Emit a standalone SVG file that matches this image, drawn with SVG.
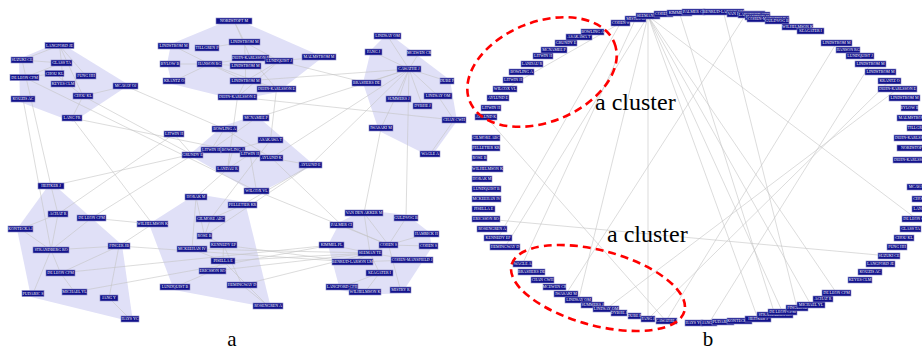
<svg xmlns="http://www.w3.org/2000/svg" width="922" height="352" viewBox="0 0 922 352">
<style>
.hull{fill:#e0e0f7}
.e line{stroke:#c4c4c4;stroke-width:0.6}
.n rect{fill:#11118a;stroke:#8c8cc8;stroke-width:0.6}
.n text{fill:#fff;font-family:"Liberation Serif",serif;font-size:4px;text-anchor:middle}
.ring{fill:none;stroke:#f00;stroke-width:2.6;stroke-dasharray:8 5}
.cap{font-family:"Liberation Serif",serif;font-size:24px;fill:#000}
.panel{font-family:"Liberation Serif",serif;font-size:21px;fill:#000;text-anchor:middle}
</style>

<!-- panel a: cluster hulls -->
<g id="hulls">
<polygon class="hull" points="59,42 129,85 73,122 20,102 19,59"/>
<polygon class="hull" points="234,18 323,57 278,92 237,100 172,84 167,64 171,44"/>
<polygon class="hull" points="388,33 450,80 457,121 431,157 379,131 363,83 371,50"/>
<polygon class="hull" points="256,115 314,165 257,194 189,155 223,126"/>
<polygon class="hull" points="196,194 245,202 271,308 174,290 149,224"/>
<polygon class="hull" points="51,182 122,245 133,322 31,297 17,229"/>
<polygon class="hull" points="364,210 407,215 429,232 432,247 402,293 365,295 340,290 328,245 340,222"/>
</g>

<!-- connectors of both panels -->
<g id="connectors" class="e">
<line x1="59.5" y1="45.5" x2="22" y2="60"/>
<line x1="59.5" y1="45.5" x2="61.5" y2="63"/>
<line x1="59.5" y1="45.5" x2="86" y2="76"/>
<line x1="59.5" y1="45.5" x2="83" y2="96"/>
<line x1="22" y1="60" x2="61.5" y2="63"/>
<line x1="24.5" y1="77.5" x2="54.5" y2="73.5"/>
<line x1="54.5" y1="73.5" x2="83" y2="96"/>
<line x1="61.5" y1="63" x2="63" y2="84"/>
<line x1="125.5" y1="86" x2="83" y2="96"/>
<line x1="83" y1="96" x2="72" y2="118"/>
<line x1="24.5" y1="77.5" x2="61.5" y2="63"/>
<line x1="234" y1="21" x2="244.5" y2="42"/>
<line x1="234" y1="21" x2="250.5" y2="58"/>
<line x1="173.5" y1="46" x2="209.5" y2="64"/>
<line x1="207" y1="48" x2="244.5" y2="42"/>
<line x1="244.5" y1="42" x2="245.5" y2="66"/>
<line x1="244.5" y1="42" x2="279" y2="61"/>
<line x1="170" y1="64" x2="209.5" y2="64"/>
<line x1="209.5" y1="64" x2="245.5" y2="66"/>
<line x1="209.5" y1="64" x2="250.5" y2="58"/>
<line x1="209.5" y1="64" x2="174" y2="81"/>
<line x1="209.5" y1="64" x2="245.5" y2="81"/>
<line x1="209.5" y1="64" x2="276.5" y2="89"/>
<line x1="245.5" y1="66" x2="245.5" y2="81"/>
<line x1="279" y1="61" x2="245.5" y2="81"/>
<line x1="279" y1="61" x2="319" y2="57"/>
<line x1="245.5" y1="81" x2="276.5" y2="89"/>
<line x1="245.5" y1="81" x2="237.5" y2="97"/>
<line x1="250.5" y1="58" x2="276.5" y2="89"/>
<line x1="279" y1="61" x2="237.5" y2="97"/>
<line x1="409" y1="69" x2="387.5" y2="36"/>
<line x1="409" y1="69" x2="373.5" y2="52"/>
<line x1="409" y1="69" x2="419" y2="53"/>
<line x1="409" y1="69" x2="447" y2="81"/>
<line x1="409" y1="69" x2="366.5" y2="83"/>
<line x1="409" y1="69" x2="438" y2="96"/>
<line x1="409" y1="69" x2="398.5" y2="99"/>
<line x1="409" y1="69" x2="422.5" y2="106"/>
<line x1="409" y1="69" x2="381" y2="128"/>
<line x1="454" y1="120" x2="430" y2="154"/>
<line x1="438" y1="96" x2="454" y2="120"/>
<line x1="256" y1="118" x2="211" y2="150"/>
<line x1="224.5" y1="129" x2="211" y2="150"/>
<line x1="174" y1="134" x2="192.5" y2="155"/>
<line x1="270.5" y1="140" x2="233" y2="150"/>
<line x1="233" y1="150" x2="250" y2="154"/>
<line x1="250" y1="154" x2="271.5" y2="158"/>
<line x1="271.5" y1="158" x2="310.5" y2="165"/>
<line x1="250" y1="154" x2="227.5" y2="169"/>
<line x1="233" y1="150" x2="227.5" y2="169"/>
<line x1="250" y1="154" x2="256.5" y2="191"/>
<line x1="224.5" y1="129" x2="271.5" y2="158"/>
<line x1="196" y1="197" x2="192" y2="249"/>
<line x1="196" y1="197" x2="204.5" y2="236"/>
<line x1="210.5" y1="219" x2="204.5" y2="236"/>
<line x1="204.5" y1="236" x2="223.5" y2="245"/>
<line x1="223.5" y1="245" x2="223" y2="261"/>
<line x1="223.5" y1="245" x2="242" y2="285"/>
<line x1="192" y1="249" x2="223" y2="261"/>
<line x1="223" y1="261" x2="212.5" y2="271"/>
<line x1="212.5" y1="271" x2="175" y2="287"/>
<line x1="242" y1="285" x2="268" y2="306"/>
<line x1="223" y1="261" x2="268" y2="306"/>
<line x1="210.5" y1="219" x2="242.5" y2="205"/>
<line x1="58" y1="214" x2="20.5" y2="229"/>
<line x1="58" y1="214" x2="51" y2="250"/>
<line x1="91.5" y1="218" x2="51" y2="250"/>
<line x1="51" y1="250" x2="119" y2="246"/>
<line x1="51" y1="250" x2="60.5" y2="273"/>
<line x1="51" y1="250" x2="33" y2="293.5"/>
<line x1="60.5" y1="273" x2="119" y2="246"/>
<line x1="60.5" y1="273" x2="74.5" y2="292"/>
<line x1="119" y1="246" x2="109" y2="298"/>
<line x1="109" y1="298" x2="130" y2="319"/>
<line x1="51" y1="186" x2="58" y2="214"/>
<line x1="20.5" y1="229" x2="51" y2="250"/>
<line x1="364" y1="213" x2="370" y2="253"/>
<line x1="364" y1="213" x2="388.5" y2="245"/>
<line x1="341.5" y1="225" x2="388.5" y2="245"/>
<line x1="406" y1="218" x2="388.5" y2="245"/>
<line x1="426.5" y1="234" x2="388.5" y2="245"/>
<line x1="388.5" y1="245" x2="428.5" y2="246"/>
<line x1="388.5" y1="245" x2="370" y2="253"/>
<line x1="331.5" y1="245" x2="370" y2="253"/>
<line x1="370" y1="253" x2="352.5" y2="262"/>
<line x1="370" y1="253" x2="412" y2="260"/>
<line x1="388.5" y1="245" x2="400.5" y2="290"/>
<line x1="370" y1="253" x2="379.5" y2="273"/>
<line x1="379.5" y1="273" x2="342" y2="287"/>
<line x1="379.5" y1="273" x2="365" y2="292"/>
<line x1="352.5" y1="262" x2="412" y2="260"/>
<line x1="22" y1="60" x2="51" y2="186"/>
<line x1="23" y1="99" x2="51" y2="250"/>
<line x1="72" y1="118" x2="152.5" y2="224"/>
<line x1="24.5" y1="77.5" x2="256.5" y2="191"/>
<line x1="83" y1="96" x2="192.5" y2="155"/>
<line x1="245.5" y1="81" x2="409" y2="69"/>
<line x1="237.5" y1="97" x2="454" y2="120"/>
<line x1="237.5" y1="97" x2="227.5" y2="169"/>
<line x1="409" y1="69" x2="256" y2="118"/>
<line x1="409" y1="69" x2="271.5" y2="158"/>
<line x1="409" y1="69" x2="310.5" y2="165"/>
<line x1="409" y1="69" x2="406" y2="218"/>
<line x1="381" y1="128" x2="364" y2="213"/>
<line x1="341.5" y1="225" x2="271.5" y2="158"/>
<line x1="192" y1="249" x2="370" y2="253"/>
<line x1="223.5" y1="245" x2="352.5" y2="262"/>
<line x1="223" y1="261" x2="370" y2="253"/>
<line x1="212.5" y1="271" x2="370" y2="253"/>
<line x1="242" y1="285" x2="370" y2="253"/>
<line x1="119" y1="246" x2="352.5" y2="262"/>
<line x1="60.5" y1="273" x2="331.5" y2="245"/>
<line x1="74.5" y1="292" x2="331.5" y2="245"/>
<line x1="119" y1="246" x2="152.5" y2="224"/>
<line x1="91.5" y1="218" x2="152.5" y2="224"/>
<line x1="192.5" y1="155" x2="91.5" y2="218"/>
<line x1="58" y1="214" x2="174" y2="134"/>
<line x1="51" y1="186" x2="211" y2="150"/>
<line x1="242.5" y1="205" x2="310.5" y2="165"/>
<line x1="256.5" y1="191" x2="388.5" y2="245"/>
<line x1="279" y1="61" x2="366.5" y2="83"/>
<line x1="125.5" y1="86" x2="224.5" y2="129"/>
<line x1="276.5" y1="89" x2="270.5" y2="140"/>
<line x1="196" y1="197" x2="227.5" y2="169"/>
<line x1="204.5" y1="236" x2="310.5" y2="165"/>
<line x1="210.5" y1="219" x2="270.5" y2="140"/>
<line x1="72" y1="118" x2="250" y2="154"/>
<!-- panel b chords -->
<line x1="648" y1="16" x2="505" y2="247"/>
<line x1="635.5" y1="19" x2="522.5" y2="264"/>
<line x1="620.5" y1="23" x2="498" y2="238"/>
<line x1="648" y1="16" x2="648" y2="319"/>
<line x1="648" y1="16" x2="578.5" y2="300"/>
<line x1="648" y1="16" x2="758" y2="319"/>
<line x1="648" y1="16" x2="782.5" y2="312"/>
<line x1="648" y1="16" x2="811" y2="305"/>
<line x1="648" y1="16" x2="836.5" y2="293"/>
<line x1="648" y1="16" x2="916.5" y2="219"/>
<line x1="723.5" y1="12" x2="797" y2="308"/>
<line x1="679.5" y1="13" x2="775" y2="315"/>
<line x1="505" y1="89" x2="620.5" y2="23"/>
<line x1="486" y1="117" x2="666" y2="321"/>
<line x1="836.5" y1="43" x2="666" y2="321"/>
<line x1="870.5" y1="64" x2="709" y2="323"/>
<line x1="889.5" y1="81" x2="648" y2="319"/>
<line x1="897.5" y1="89" x2="606" y2="309"/>
<line x1="486" y1="219" x2="889" y2="256"/>
<line x1="566" y1="294" x2="746" y2="14"/>
</g>

<!-- panel a: nodes -->
<g id="a1-langford-je" class="n"><rect x="45" y="42.5" width="29" height="6"/><text x="59.5" y="46.9">LANGFORD JE</text></g>
<g id="a2-suzuki-ce" class="n"><rect x="11" y="57" width="22" height="6"/><text x="22" y="61.4">SUZUKI CE</text></g>
<g id="a3-glass-ta" class="n"><rect x="51" y="60" width="21" height="6"/><text x="61.5" y="64.4">GLASS TA</text></g>
<g id="a4-chou-kl" class="n"><rect x="45" y="70.5" width="19" height="6"/><text x="54.5" y="74.9">CHOU KL</text></g>
<g id="a5-fung-hh" class="n"><rect x="76" y="73" width="20" height="6"/><text x="86" y="77.4">FUNG HH</text></g>
<g id="a6-de-leon-cfm" class="n"><rect x="10" y="74.5" width="29" height="6"/><text x="24.5" y="78.9">DE LEON CFM</text></g>
<g id="a7-keyes-clm" class="n"><rect x="51" y="81" width="24" height="6"/><text x="63" y="85.4">KEYES CLM</text></g>
<g id="a8-mcavay-oj" class="n"><rect x="113" y="83" width="25" height="6"/><text x="125.5" y="87.4">MCAVAY OJ</text></g>
<g id="a9-chou-kl" class="n"><rect x="73" y="93" width="20" height="6"/><text x="83" y="97.4">CHOU KL</text></g>
<g id="a10-kouzis-ac" class="n"><rect x="11" y="96" width="24" height="6"/><text x="23" y="100.4">KOUZIS AC</text></g>
<g id="a11-lang-fr" class="n"><rect x="62" y="115" width="20" height="6"/><text x="72" y="119.4">LANG FR</text></g>
<g id="a12-nordstopt-m" class="n"><rect x="216" y="18" width="36" height="6"/><text x="234" y="22.4">NORDSTOPT M</text></g>
<g id="a13-lindstrom-m" class="n"><rect x="158" y="43" width="31" height="6"/><text x="173.5" y="47.4">LINDSTROM M</text></g>
<g id="a14-tillgren-p" class="n"><rect x="195" y="45" width="24" height="6"/><text x="207" y="49.4">TILLGREN P</text></g>
<g id="a15-lindstrom-m" class="n"><rect x="229" y="39" width="31" height="6"/><text x="244.5" y="43.4">LINDSTROM M</text></g>
<g id="a16-dehn-karlsson-e" class="n"><rect x="232" y="55" width="37" height="6"/><text x="250.5" y="59.4">DEHN-KARLSSON E</text></g>
<g id="a17-lundquist-j" class="n"><rect x="265" y="58" width="28" height="6"/><text x="279" y="62.4">LUNDQUIST J</text></g>
<g id="a18-malmstrom-m" class="n"><rect x="302" y="54" width="34" height="6"/><text x="319" y="58.4">MALMSTROM M</text></g>
<g id="a19-bylow-b" class="n"><rect x="160" y="61" width="20" height="6"/><text x="170" y="65.4">BYLOW B</text></g>
<g id="a20-hanson-rg" class="n"><rect x="197" y="61" width="25" height="6"/><text x="209.5" y="65.4">HANSON RG</text></g>
<g id="a21-lindstrom-m" class="n"><rect x="230" y="63" width="31" height="6"/><text x="245.5" y="67.4">LINDSTROM M</text></g>
<g id="a22-krantz-o" class="n"><rect x="163" y="78" width="22" height="6"/><text x="174" y="82.4">KRANTZ O</text></g>
<g id="a23-lindstrom-m" class="n"><rect x="230" y="78" width="31" height="6"/><text x="245.5" y="82.4">LINDSTROM M</text></g>
<g id="a24-dehn-karlsson-e" class="n"><rect x="257" y="86" width="39" height="6"/><text x="276.5" y="90.4">DEHN-KARLSSON E</text></g>
<g id="a25-dehn-karlsson-e" class="n"><rect x="218" y="94" width="39" height="6"/><text x="237.5" y="98.4">DEHN-KARLSSON E</text></g>
<g id="a26-lindsay-om" class="n"><rect x="374" y="33" width="27" height="6"/><text x="387.5" y="37.4">LINDSAY OM</text></g>
<g id="a27-fang-j" class="n"><rect x="365" y="49" width="17" height="6"/><text x="373.5" y="53.4">FANG J</text></g>
<g id="a28-mcewen-cr" class="n"><rect x="407" y="50" width="24" height="6"/><text x="419" y="54.4">MCEWEN CR</text></g>
<g id="a29-cawathe-j" class="n"><rect x="397" y="66" width="24" height="6"/><text x="409" y="70.4">CAWATHE J</text></g>
<g id="a30-dube-f" class="n"><rect x="440" y="78" width="14" height="6"/><text x="447" y="82.4">DUBE F</text></g>
<g id="a31-brashers-de" class="n"><rect x="352" y="80" width="29" height="6"/><text x="366.5" y="84.4">BRASHERS DE</text></g>
<g id="a32-lindsay-om" class="n"><rect x="424" y="93" width="28" height="6"/><text x="438" y="97.4">LINDSAY OM</text></g>
<g id="a33-summers-j" class="n"><rect x="386" y="96" width="25" height="6"/><text x="398.5" y="100.4">SUMMERS J</text></g>
<g id="a34-dybhe-j" class="n"><rect x="413" y="103" width="19" height="6"/><text x="422.5" y="107.4">DYBHE J</text></g>
<g id="a35-chan-cwh" class="n"><rect x="442" y="117" width="24" height="6"/><text x="454" y="121.4">CHAN CWH</text></g>
<g id="a36-iwasaki-m" class="n"><rect x="369" y="125" width="24" height="6"/><text x="381" y="129.4">IWASAKI M</text></g>
<g id="a37-wagle-a" class="n"><rect x="420" y="151" width="20" height="6"/><text x="430" y="155.4">WAGLE A</text></g>
<g id="a38-mcnamee-p" class="n"><rect x="243" y="115" width="26" height="6"/><text x="256" y="119.4">MCNAMEE P</text></g>
<g id="a39-bowling-a" class="n"><rect x="212" y="126" width="25" height="6"/><text x="224.5" y="130.4">BOWLING A</text></g>
<g id="a40-litwin-h" class="n"><rect x="164" y="131" width="20" height="6"/><text x="174" y="135.4">LITWIN H</text></g>
<g id="a41-asakawa-t" class="n"><rect x="258" y="137" width="25" height="6"/><text x="270.5" y="141.4">ASAKAWA T</text></g>
<g id="a42-litwin-h" class="n"><rect x="201" y="147" width="20" height="6"/><text x="211" y="151.4">LITWIN H</text></g>
<g id="a43-bowling-a" class="n"><rect x="221" y="147" width="24" height="6"/><text x="233" y="151.4">BOWLING A</text></g>
<g id="a44-grundy-e" class="n"><rect x="182" y="152" width="21" height="6"/><text x="192.5" y="156.4">GRUNDY E</text></g>
<g id="a45-litwin-h" class="n"><rect x="240" y="151" width="20" height="6"/><text x="250" y="155.4">LITWIN H</text></g>
<g id="a46-aylund-k" class="n"><rect x="260" y="155" width="23" height="6"/><text x="271.5" y="159.4">AYLUND K</text></g>
<g id="a47-aylund-e" class="n"><rect x="299" y="162" width="23" height="6"/><text x="310.5" y="166.4">AYLUND E</text></g>
<g id="a48-landau-r" class="n"><rect x="216" y="166" width="23" height="6"/><text x="227.5" y="170.4">LANDAU R</text></g>
<g id="a49-wilcox-vl" class="n"><rect x="244" y="188" width="25" height="6"/><text x="256.5" y="192.4">WILCOX VL</text></g>
<g id="a50-horak-m" class="n"><rect x="185" y="194" width="22" height="6"/><text x="196" y="198.4">HORAK M</text></g>
<g id="a51-pelletier-kr" class="n"><rect x="228" y="202" width="29" height="6"/><text x="242.5" y="206.4">PELLETIER KR</text></g>
<g id="a52-gilmore-abc" class="n"><rect x="196" y="216" width="29" height="6"/><text x="210.5" y="220.4">GILMORE ABC</text></g>
<g id="a53-wilhelmson-k" class="n"><rect x="137" y="221" width="31" height="6"/><text x="152.5" y="225.4">WILHELMSON K</text></g>
<g id="a54-rose-b" class="n"><rect x="197" y="233" width="15" height="6"/><text x="204.5" y="237.4">ROSE B</text></g>
<g id="a55-kennedy-ep" class="n"><rect x="210" y="242" width="27" height="6"/><text x="223.5" y="246.4">KENNEDY EP</text></g>
<g id="a56-mckeehan-iv" class="n"><rect x="177" y="246" width="30" height="6"/><text x="192" y="250.4">MCKEEHAN IV</text></g>
<g id="a57-pisella-e" class="n"><rect x="211" y="258" width="24" height="6"/><text x="223" y="262.4">PISELLA E</text></g>
<g id="a58-ericsson-ro" class="n"><rect x="199" y="268" width="27" height="6"/><text x="212.5" y="272.4">ERICSSON RO</text></g>
<g id="a59-lundquist-b" class="n"><rect x="160" y="284" width="30" height="6"/><text x="175" y="288.4">LUNDQUIST B</text></g>
<g id="a60-hemingway-d" class="n"><rect x="227" y="282" width="30" height="6"/><text x="242" y="286.4">HEMINGWAY D</text></g>
<g id="a61-rosengren-a" class="n"><rect x="253" y="303" width="30" height="6"/><text x="268" y="307.4">ROSENGREN A</text></g>
<g id="a62-heitker-j" class="n"><rect x="38" y="183" width="26" height="6"/><text x="51" y="187.4">HEITKER J</text></g>
<g id="a63-achat-r" class="n"><rect x="48" y="211" width="20" height="6"/><text x="58" y="215.4">ACHAT R</text></g>
<g id="a64-de-leon-cfm" class="n"><rect x="77" y="215" width="29" height="6"/><text x="91.5" y="219.4">DE LEON CFM</text></g>
<g id="a65-kontecka-j" class="n"><rect x="8" y="226" width="25" height="6"/><text x="20.5" y="230.4">KONTECKA J</text></g>
<g id="a66-strandberg-ro" class="n"><rect x="33" y="247" width="36" height="6"/><text x="51" y="251.4">STRANDBERG RO</text></g>
<g id="a67-finger-jb" class="n"><rect x="108" y="243" width="22" height="6"/><text x="119" y="247.4">FINGER JB</text></g>
<g id="a68-de-leon-cfm" class="n"><rect x="46" y="270" width="29" height="6"/><text x="60.5" y="274.4">DE LEON CFM</text></g>
<g id="a69-pudaric-s" class="n"><rect x="22" y="290.5" width="22" height="6"/><text x="33" y="294.9">PUDARIC S</text></g>
<g id="a70-michael-yl" class="n"><rect x="62" y="289" width="25" height="6"/><text x="74.5" y="293.4">MICHAEL YL</text></g>
<g id="a71-jang-y" class="n"><rect x="100" y="295" width="18" height="6"/><text x="109" y="299.4">JANG Y</text></g>
<g id="a72-hays-yc" class="n"><rect x="121" y="316" width="18" height="6"/><text x="130" y="320.4">HAYS YC</text></g>
<g id="a73-van-den-akker-m" class="n"><rect x="345" y="210" width="38" height="6"/><text x="364" y="214.4">VAN DEN AKKER M</text></g>
<g id="a74-guldvog-b" class="n"><rect x="394" y="215" width="24" height="6"/><text x="406" y="219.4">GULDVOG B</text></g>
<g id="a75-palmer-ci" class="n"><rect x="330" y="222" width="23" height="6"/><text x="341.5" y="226.4">PALMER CI</text></g>
<g id="a76-hamrick-h" class="n"><rect x="414" y="231" width="25" height="6"/><text x="426.5" y="235.4">HAMRICK H</text></g>
<g id="a77-kimmel-pl" class="n"><rect x="319" y="242" width="25" height="6"/><text x="331.5" y="246.4">KIMMEL PL</text></g>
<g id="a78-cohen-s" class="n"><rect x="379" y="242" width="19" height="6"/><text x="388.5" y="246.4">COHEN S</text></g>
<g id="a79-cohen-s" class="n"><rect x="419" y="243" width="19" height="6"/><text x="428.5" y="247.4">COHEN S</text></g>
<g id="a80-seeman-te" class="n"><rect x="358" y="250" width="24" height="6"/><text x="370" y="254.4">SEEMAN TE</text></g>
<g id="a81-benrud-larson-lm" class="n"><rect x="332" y="259" width="41" height="6"/><text x="352.5" y="263.4">BENRUD-LARSON LM</text></g>
<g id="a82-cohen-mansfield-j" class="n"><rect x="391" y="257" width="42" height="6"/><text x="412" y="261.4">COHEN-MANSFIELD J</text></g>
<g id="a83-szagater-i" class="n"><rect x="366" y="270" width="27" height="6"/><text x="379.5" y="274.4">SZAGATER I</text></g>
<g id="a84-langford-cfh" class="n"><rect x="326" y="284" width="32" height="6"/><text x="342" y="288.4">LANGFORD CFH</text></g>
<g id="a85-wilhelmson-k" class="n"><rect x="349" y="289" width="32" height="6"/><text x="365" y="293.4">WILHELMSON K</text></g>
<g id="a86-mistry-r" class="n"><rect x="390" y="287" width="21" height="6"/><text x="400.5" y="291.4">MISTRY R</text></g>

<!-- panel b: nodes on the ring -->
<g id="b-aylund-k" class="n"><rect x="475" y="114" width="22" height="6"/><text x="486" y="118.4">AYLUND K</text></g>
<g id="b-litwin-h-1" class="n"><rect x="481" y="105" width="20" height="6"/><text x="491" y="109.4">LITWIN H</text></g>
<g id="b-aylund-e" class="n"><rect x="487" y="95" width="22" height="6"/><text x="498" y="99.4">AYLUND E</text></g>
<g id="b-wilcox-vl" class="n"><rect x="493" y="86" width="24" height="6"/><text x="505" y="90.4">WILCOX VL</text></g>
<g id="b-litwin-h-2" class="n"><rect x="503" y="77" width="20" height="6"/><text x="513" y="81.4">LITWIN H</text></g>
<g id="b-bowling-a-1" class="n"><rect x="509" y="69" width="25" height="6"/><text x="521.5" y="73.4">BOWLING A</text></g>
<g id="b-landau-r" class="n"><rect x="521" y="61" width="22" height="6"/><text x="532" y="65.4">LANDAU R</text></g>
<g id="b-litwin-h-3" class="n"><rect x="533" y="53" width="20" height="6"/><text x="543" y="57.4">LITWIN H</text></g>
<g id="b-mcnamee-p" class="n"><rect x="541" y="47" width="26" height="6"/><text x="554" y="51.4">MCNAMEE P</text></g>
<g id="b-grundy-e" class="n"><rect x="555" y="40" width="22" height="6"/><text x="566" y="44.4">GRUNDY E</text></g>
<g id="b-asakawa-t" class="n"><rect x="566" y="34" width="26" height="6"/><text x="579" y="38.4">ASAKAWA T</text></g>
<g id="b-bowling-a-2" class="n"><rect x="581" y="29" width="23" height="6"/><text x="592.5" y="33.4">BOWLING A</text></g>

<g id="b-gilmore-abc" class="n"><rect x="472" y="135" width="28" height="6"/><text x="486" y="139.4">GILMORE ABC</text></g>
<g id="b-pelletier-kr" class="n"><rect x="472" y="145" width="28" height="6"/><text x="486" y="149.4">PELLETIER KR</text></g>
<g id="b-rose-b" class="n"><rect x="472" y="155" width="15" height="6"/><text x="479.5" y="159.4">ROSE B</text></g>
<g id="b-wilhelmson-k-1" class="n"><rect x="472" y="166" width="31" height="6"/><text x="487.5" y="170.4">WILHELMSON K</text></g>
<g id="b-horak-m" class="n"><rect x="472" y="176" width="20" height="6"/><text x="482" y="180.4">HORAK M</text></g>
<g id="b-lundquist-b" class="n"><rect x="472" y="186" width="29" height="6"/><text x="486.5" y="190.4">LUNDQUIST B</text></g>
<g id="b-mckeehan-iv" class="n"><rect x="472" y="196" width="29" height="6"/><text x="486.5" y="200.4">MCKEEHAN IV</text></g>
<g id="b-pisella-e" class="n"><rect x="472" y="206" width="23" height="6"/><text x="483.5" y="210.4">PISELLA E</text></g>
<g id="b-ericsson-ro" class="n"><rect x="472" y="216" width="28" height="6"/><text x="486" y="220.4">ERICSSON RO</text></g>
<g id="b-rosengren-a" class="n"><rect x="477" y="226" width="30" height="6"/><text x="492" y="230.4">ROSENGREN A</text></g>
<g id="b-kennedy-ep" class="n"><rect x="484" y="235" width="28" height="6"/><text x="498" y="239.4">KENNEDY EP</text></g>
<g id="b-hemingway-d" class="n"><rect x="490" y="244" width="30" height="6"/><text x="505" y="248.4">HEMINGWAY D</text></g>

<g id="b-wagle-a" class="n"><rect x="513" y="261" width="19" height="6"/><text x="522.5" y="265.4">WAGLE A</text></g>
<g id="b-brashers-de" class="n"><rect x="518" y="269" width="27" height="6"/><text x="531.5" y="273.4">BRASHERS DE</text></g>
<g id="b-chan-cwh" class="n"><rect x="531" y="277" width="23" height="6"/><text x="542.5" y="281.4">CHAN CWH</text></g>
<g id="b-mcewen-cr" class="n"><rect x="543" y="284" width="23" height="6"/><text x="554.5" y="288.4">MCEWEN CR</text></g>
<g id="b-iwasaki-m" class="n"><rect x="554" y="291" width="24" height="6"/><text x="566" y="295.4">IWASAKI M</text></g>
<g id="b-lindsay-om-1" class="n"><rect x="565" y="297" width="27" height="6"/><text x="578.5" y="301.4">LINDSAY OM</text></g>
<g id="b-summers-j" class="n"><rect x="581" y="302" width="23" height="6"/><text x="592.5" y="306.4">SUMMERS J</text></g>
<g id="b-lindsay-om-2" class="n"><rect x="593" y="306" width="26" height="6"/><text x="606" y="310.4">LINDSAY OM</text></g>
<g id="b-dybhe-j" class="n"><rect x="611" y="310" width="16" height="6"/><text x="619" y="314.4">DYBHE J</text></g>
<g id="b-dube-f" class="n"><rect x="628" y="313" width="13" height="6"/><text x="634.5" y="317.4">DUBE F</text></g>
<g id="b-fang-j" class="n"><rect x="641" y="316" width="14" height="6"/><text x="648" y="320.4">FANG J</text></g>
<g id="b-cawathe-j" class="n"><rect x="656" y="318" width="21" height="6"/><text x="666.5" y="322.4">CAWATHE J</text></g>

<g id="b-hays-yc" class="n"><rect x="685" y="320" width="18" height="6"/><text x="694" y="324.4">HAYS YC</text></g>
<g id="b-jang-y" class="n"><rect x="701" y="320" width="16" height="6"/><text x="709" y="324.4">JANG Y</text></g>
<g id="b-pudaric-s" class="n"><rect x="712" y="319" width="22" height="6"/><text x="723" y="323.4">PUDARIC S</text></g>
<g id="b-kontecka-j" class="n"><rect x="727" y="318" width="25" height="6"/><text x="739.5" y="322.4">KONTECKA J</text></g>
<g id="b-heitker-j" class="n"><rect x="745" y="316" width="26" height="6"/><text x="758" y="320.4">HEITKER J</text></g>
<g id="b-strandberg-ro" class="n"><rect x="757" y="312" width="36" height="6"/><text x="775" y="316.4">STRANDBERG RO</text></g>
<g id="b-de-leon-cfm-1" class="n"><rect x="768" y="309" width="29" height="6"/><text x="782.5" y="313.4">DE LEON CFM</text></g>
<g id="b-finger-jb" class="n"><rect x="786" y="305" width="22" height="6"/><text x="797" y="309.4">FINGER JB</text></g>
<g id="b-michael-yl" class="n"><rect x="797" y="302" width="28" height="6"/><text x="811" y="306.4">MICHAEL YL</text></g>
<g id="b-achat-r" class="n"><rect x="813" y="296" width="20" height="6"/><text x="823" y="300.4">ACHAT R</text></g>
<g id="b-de-leon-cfm-2" class="n"><rect x="822" y="290" width="29" height="6"/><text x="836.5" y="294.4">DE LEON CFM</text></g>

<g id="b-keyes-clm" class="n"><rect x="848" y="277" width="24" height="6"/><text x="860" y="281.4">KEYES CLM</text></g>
<g id="b-kouzis-ac" class="n"><rect x="858" y="269" width="24" height="6"/><text x="870" y="273.4">KOUZIS AC</text></g>
<g id="b-langford-je" class="n"><rect x="866" y="261" width="29" height="6"/><text x="880.5" y="265.4">LANGFORD JE</text></g>
<g id="b-suzuki-ce" class="n"><rect x="878" y="253" width="22" height="6"/><text x="889" y="257.4">SUZUKI CE</text></g>
<g id="b-fung-hh" class="n"><rect x="887" y="244" width="20" height="6"/><text x="897" y="248.4">FUNG HH</text></g>
<g id="b-chou-kl-1" class="n"><rect x="894" y="235" width="20" height="6"/><text x="904" y="239.4">CHOU KL</text></g>
<g id="b-glass-ta" class="n"><rect x="900" y="226" width="21" height="6"/><text x="910.5" y="230.4">GLASS TA</text></g>
<g id="b-de-leon-cfm-3" class="n"><rect x="902" y="216" width="29" height="6"/><text x="916.5" y="220.4">DE LEON CFM</text></g>
<g id="b-lang-fr" class="n"><rect x="912" y="206" width="20" height="6"/><text x="922" y="210.4">LANG FR</text></g>
<g id="b-chou-kl-2" class="n"><rect x="912" y="196" width="20" height="6"/><text x="922" y="200.4">CHOU KL</text></g>
<g id="b-mcavay-oj" class="n"><rect x="907" y="184" width="25" height="6"/><text x="919.5" y="188.4">MCAVAY OJ</text></g>

<g id="b-lindstrom-m-1" class="n"><rect x="821" y="40" width="31" height="6"/><text x="836.5" y="44.4">LINDSTROM M</text></g>
<g id="b-hanson-rg" class="n"><rect x="836" y="47" width="24" height="6"/><text x="848" y="51.4">HANSON RG</text></g>
<g id="b-lundquist-j" class="n"><rect x="846" y="53" width="28" height="6"/><text x="860" y="57.4">LUNDQUIST J</text></g>
<g id="b-lindstrom-m-2" class="n"><rect x="855" y="61" width="31" height="6"/><text x="870.5" y="65.4">LINDSTROM M</text></g>
<g id="b-lindstrom-m-3" class="n"><rect x="865" y="69" width="31" height="6"/><text x="880.5" y="73.4">LINDSTROM M</text></g>
<g id="b-krantz-o" class="n"><rect x="878" y="78" width="23" height="6"/><text x="889.5" y="82.4">KRANTZ O</text></g>
<g id="b-dehn-karlsson-e-1" class="n"><rect x="878" y="86" width="39" height="6"/><text x="897.5" y="90.4">DEHN-KARLSSON E</text></g>
<g id="b-lindstrom-m-4" class="n"><rect x="889" y="95" width="31" height="6"/><text x="904.5" y="99.4">LINDSTROM M</text></g>
<g id="b-bylow-b" class="n"><rect x="901" y="105" width="17" height="6"/><text x="909.5" y="109.4">BYLOW B</text></g>
<g id="b-malmstrom-m" class="n"><rect x="897" y="115" width="34" height="6"/><text x="914" y="119.4">MALMSTROM M</text></g>
<g id="b-tillgren-p" class="n"><rect x="907" y="125" width="24" height="6"/><text x="919" y="129.4">TILLGREN P</text></g>
<g id="b-dehn-karlsson-e-2" class="n"><rect x="894" y="135" width="39" height="6"/><text x="913.5" y="139.4">DEHN-KARLSSON E</text></g>
<g id="b-nordstopt-m" class="n"><rect x="897" y="145" width="36" height="6"/><text x="915" y="149.4">NORDSTOPT M</text></g>
<g id="b-dehn-karlsson-e-3" class="n"><rect x="893" y="157" width="39" height="6"/><text x="912.5" y="161.4">DEHN-KARLSSON E</text></g>

<g id="b-cohen-s-1" class="n"><rect x="611" y="20" width="19" height="6"/><text x="620.5" y="24.4">COHEN S</text></g>
<g id="b-mistry-r" class="n"><rect x="625" y="16" width="21" height="6"/><text x="635.5" y="20.4">MISTRY R</text></g>
<g id="b-seeman-te" class="n"><rect x="636" y="13" width="24" height="6"/><text x="648" y="17.4">SEEMAN TE</text></g>
<g id="b-cohen-s-2" class="n"><rect x="654" y="11" width="19" height="6"/><text x="663.5" y="15.4">COHEN S</text></g>
<g id="b-kimmel-pl" class="n"><rect x="667" y="10" width="25" height="6"/><text x="679.5" y="14.4">KIMMEL PL</text></g>
<g id="b-palmer-ci" class="n"><rect x="682" y="9" width="23" height="6"/><text x="693.5" y="13.4">PALMER CI</text></g>
<g id="b-benrud-larson-lm" class="n"><rect x="703" y="9" width="41" height="6"/><text x="723.5" y="13.4">BENRUD-LARSON LM</text></g>
<g id="b-van-den-akker-m" class="n"><rect x="727" y="11" width="38" height="6"/><text x="746" y="15.4">VAN DEN AKKER M</text></g>
<g id="b-langford-cfh" class="n"><rect x="738" y="12" width="32" height="6"/><text x="754" y="16.4">LANGFORD CFH</text></g>
<g id="b-hamrick-h" class="n"><rect x="745" y="14" width="25" height="6"/><text x="757.5" y="18.4">HAMRICK H</text></g>
<g id="b-cohen-mansfield-j" class="n"><rect x="747" y="16" width="42" height="6"/><text x="768" y="20.4">COHEN-MANSFIELD J</text></g>
<g id="b-guldvog-b" class="n"><rect x="765" y="18" width="24" height="6"/><text x="777" y="22.4">GULDVOG B</text></g>
<g id="b-wilhelmson-k-2" class="n"><rect x="782" y="24" width="31" height="6"/><text x="797.5" y="28.4">WILHELMSON K</text></g>
<g id="b-szagater-i" class="n"><rect x="797" y="28" width="27" height="6"/><text x="810.5" y="32.4">SZAGATER I</text></g>

<!-- panel b: highlighted clusters -->
<g id="callouts">
<ellipse class="ring" cx="542" cy="72" rx="78" ry="50" transform="rotate(-22 542 72)"/>
<ellipse class="ring" cx="598" cy="288" rx="89.5" ry="37.5" transform="rotate(15 598 288)"/>
<text class="cap" x="595" y="110">a cluster</text>
<text class="cap" x="607" y="242">a cluster</text>
</g>

<!-- panel captions -->
<text class="panel" x="232" y="346">a</text>
<text class="panel" x="708" y="346">b</text>
</svg>
